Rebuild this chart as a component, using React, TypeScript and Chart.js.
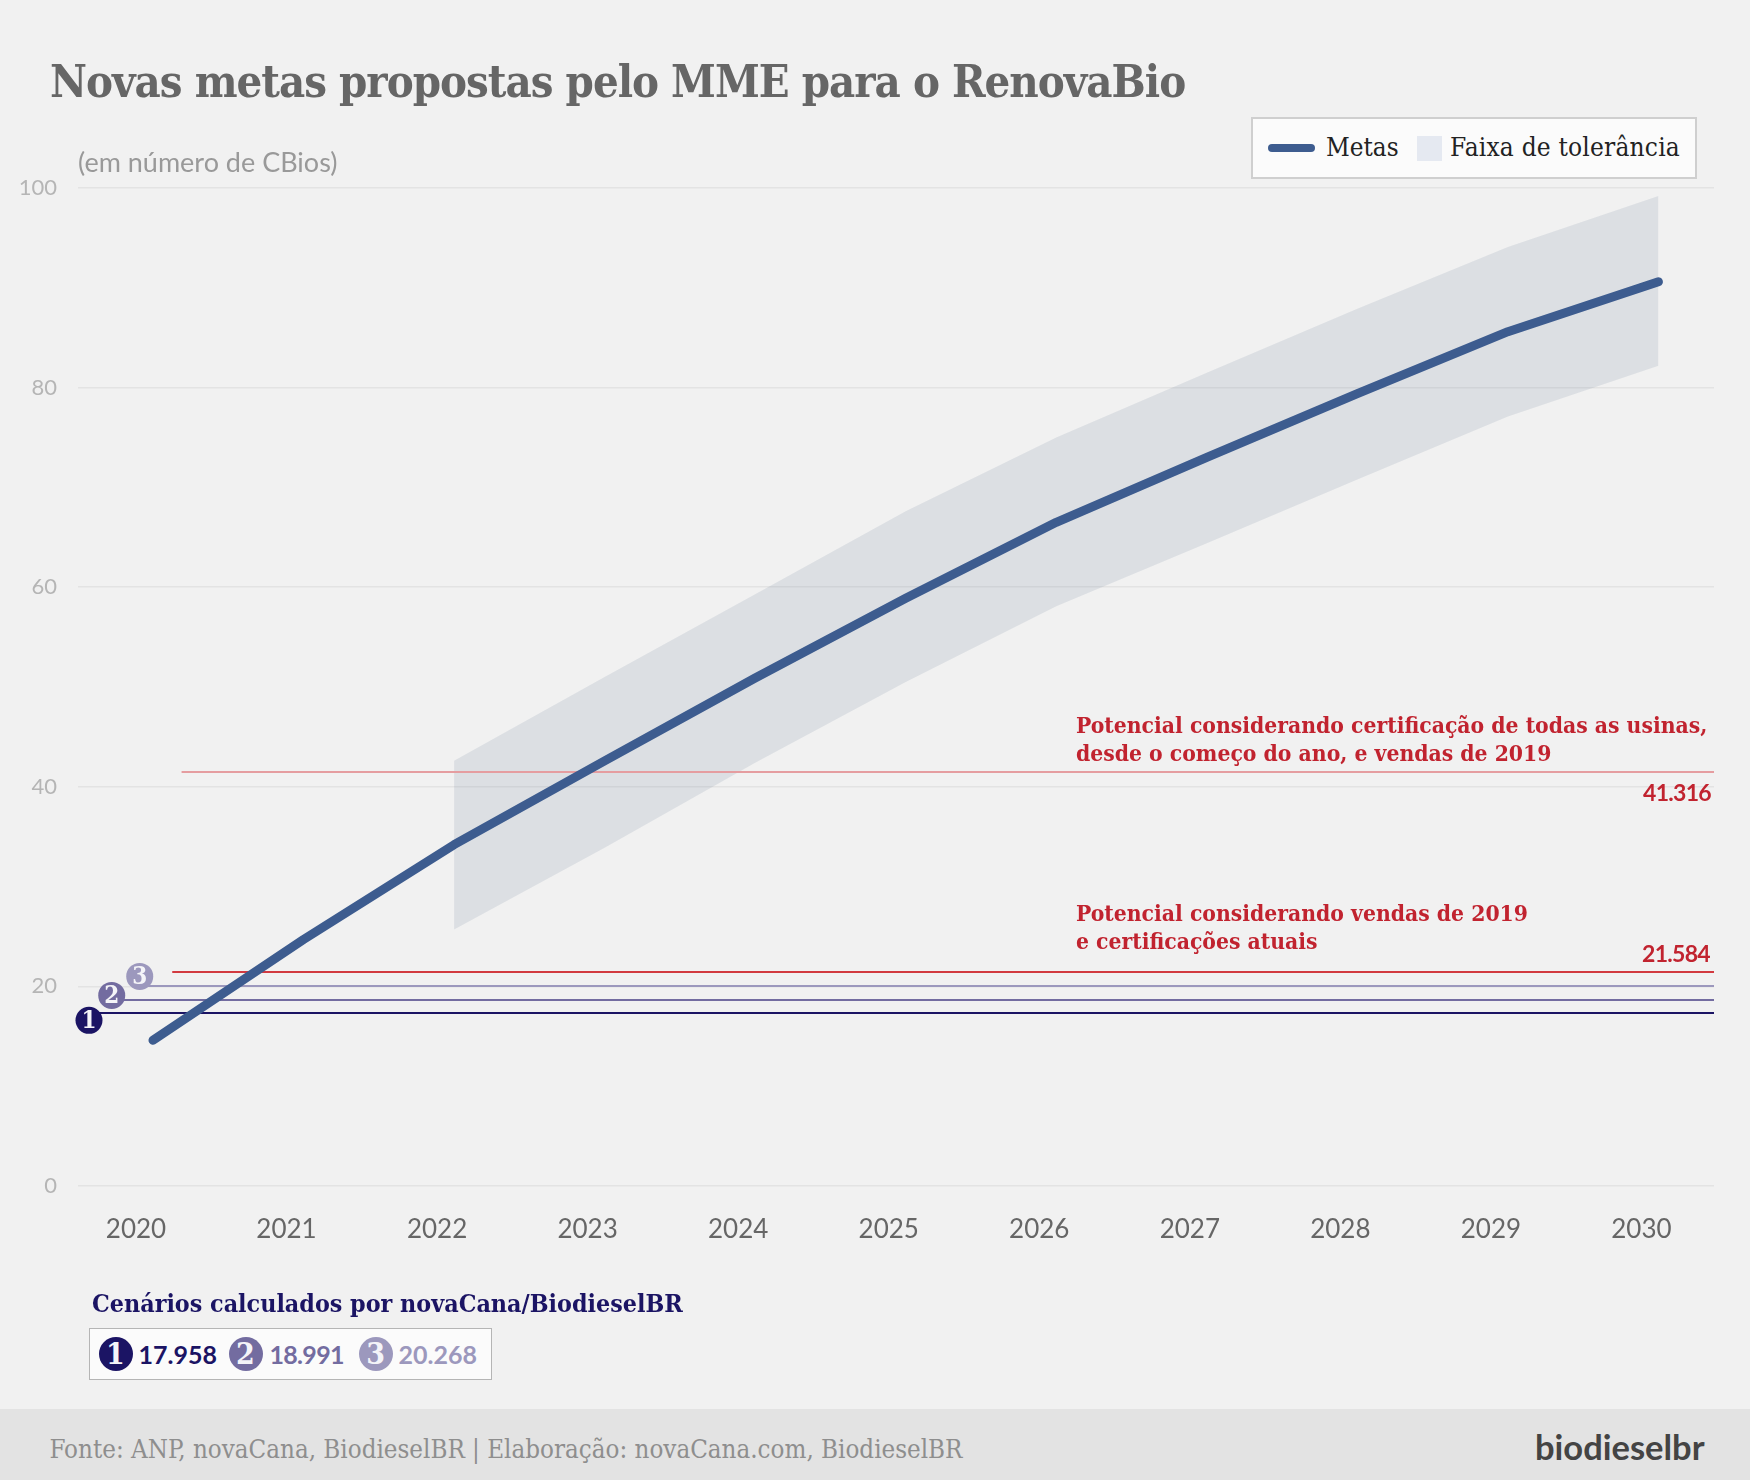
import { useEffect, useRef, type CSSProperties } from 'react'
import { Chart, registerables } from 'chart.js'

Chart.register(...registerables)

const SLAB = '"DejaVu Serif Condensed", "DejaVu Serif", serif'
const SANS = 'Lato, "Noto Sans", sans-serif'

const years = [2020, 2021, 2022, 2023, 2024, 2025, 2026, 2027, 2028, 2029, 2030]
const metas = [14.6, 24.7, 34.2, 42.6, 50.9, 58.9, 66.5, 73.0, 79.4, 85.6, 90.6]
const bandYears = [2022, 2023, 2024, 2025, 2026, 2027, 2028, 2029, 2030]
const bandUpper = [42.6, 51.0, 59.3, 67.6, 75.0, 81.5, 87.9, 94.1, 99.2]
const bandLower = [25.7, 33.9, 42.4, 50.5, 58.1, 64.4, 70.8, 77.1, 82.2]
const yTicks = [0, 20, 40, 60, 80, 100]

const xMin = 2019.502
const xMax = 2030.369

// horizontal reference lines, at the height they are drawn in the source
const potencialTodas = 41.48
const potencialAtual = 21.44
const cenarios = [17.335, 18.637, 20.04]
const cenarioStarts = [2019.575, 2019.726, 2019.912]
const cenarioColors = ['#1b1464', '#736ca0', '#9c98bd']

const badgeLabels = ['1', '2', '3']
const badgeValues = [16.6, 19.1, 21.0]
const cenarioTexts = ['17.958', '18.991', '20.268']

const hline = (label: string, value: number, from: number, color: string) => ({
  label,
  data: [{ x: from, y: value }, { x: xMax, y: value }],
  borderColor: color,
  borderWidth: 2,
  pointRadius: 0,
  order: 3,
})

const badgeText = {
  id: 'badgeText',
  afterDatasetsDraw(chart: Chart) {
    const idx = chart.data.datasets.findIndex((d) => d.label === 'badges')
    const { ctx } = chart
    ctx.save()
    ctx.fillStyle = '#f4f4f8'
    ctx.font = `bold 24px ${SLAB}`
    ctx.textAlign = 'center'
    ctx.textBaseline = 'middle'
    chart.getDatasetMeta(idx).data.forEach((pt, i) => {
      ctx.fillText(badgeLabels[i], pt.x, pt.y + 1)
    })
    ctx.restore()
  },
}

function Txt({ x, y, right, style, children }: { x?: number; y: number; right?: number; style: CSSProperties; children: React.ReactNode }) {
  return (
    <div
      style={{
        position: 'absolute',
        left: x,
        right: right !== undefined ? 1750 - right : undefined,
        top: y,
        transform: 'translateY(-50%)',
        whiteSpace: 'nowrap',
        ...style,
      }}
    >
      {children}
    </div>
  )
}

function Badge({ x, y, color, label }: { x: number; y: number; color: string; label: string }) {
  return (
    <div
      style={{
        position: 'absolute',
        left: x - 17,
        top: y - 17,
        width: 34,
        height: 34,
        borderRadius: '50%',
        background: color,
        color: '#f4f4f8',
        font: `bold 30px ${SLAB}`,
        lineHeight: '34px',
        textAlign: 'center',
      }}
    >
      {label}
    </div>
  )
}

const redText: CSSProperties = { font: `bold 22.7px ${SLAB}`, color: '#c1232f' }
const redNum: CSSProperties = { font: `bold 23px ${SANS}`, color: '#c1232f', letterSpacing: -0.7 }

export default function App() {
  const canvasRef = useRef<HTMLCanvasElement>(null)

  useEffect(() => {
    if (!canvasRef.current) return
    const chart = new Chart(canvasRef.current, {
      type: 'line',
      data: {
        datasets: [
          {
            label: 'Metas',
            data: years.map((x, i) => ({ x, y: metas[i] })),
            borderColor: '#3d5c8f',
            borderWidth: 9,
            borderCapStyle: 'round',
            borderJoinStyle: 'round',
            pointRadius: 0,
            order: 1,
          },
          {
            label: 'badges',
            data: cenarioStarts.map((x, i) => ({ x, y: badgeValues[i] })),
            showLine: false,
            clip: false,
            pointRadius: 13.5,
            pointBorderWidth: 0,
            pointBackgroundColor: cenarioColors,
            order: 2,
          },
          hline('Potencial todas', potencialTodas, 2020.19, '#e59da0'),
          hline('Potencial atual', potencialAtual, 2020.128, '#d23a40'),
          ...cenarios.map((v, i) => hline('Cenário ' + (i + 1), v, cenarioStarts[i], cenarioColors[i])),
          {
            label: 'Faixa superior',
            data: bandYears.map((x, i) => ({ x, y: bandUpper[i] })),
            borderWidth: 0,
            pointRadius: 0,
            backgroundColor: 'rgba(50,80,115,0.105)',
            fill: '+1',
            order: 5,
          },
          {
            label: 'Faixa inferior',
            data: bandYears.map((x, i) => ({ x, y: bandLower[i] })),
            borderWidth: 0,
            pointRadius: 0,
            order: 6,
          },
        ],
      },
      options: {
        animation: false,
        responsive: false,
        layout: { padding: { top: 188, right: 36, left: 0, bottom: 0 } },
        plugins: { legend: { display: false }, tooltip: { enabled: false } },
        scales: {
          x: {
            type: 'linear',
            min: xMin,
            max: xMax,
            grid: { display: false },
            border: { display: false },
            afterFit: (s: any) => { s.height = 114 },
            afterBuildTicks: (s: any) => { s.ticks = years.map((value) => ({ value })) },
            ticks: {
              autoSkip: false,
              maxRotation: 0,
              padding: 20,
              labelOffset: -17,
              color: '#666666',
              font: { family: SANS, size: 26 },
              callback: (v: any) => String(v),
            },
          },
          y: {
            min: 0,
            max: 100,
            grid: { color: '#e3e3e3', lineWidth: 1.5, drawTicks: false },
            border: { display: false },
            afterFit: (s: any) => { s.width = 78 },
            afterBuildTicks: (s: any) => { s.ticks = yTicks.map((value) => ({ value })) },
            ticks: {
              padding: 21,
              color: '#b5b5b5',
              font: { family: SANS, size: 22 },
            },
          },
        },
      },
      plugins: [badgeText],
    } as any)
    return () => { chart.destroy() }
  }, [])

  return (
    <div style={{ position: 'absolute', left: 0, top: 0, width: 1750, height: 1480, background: '#f1f1f1', overflow: 'hidden' }}>
      <canvas ref={canvasRef} width={1750} height={1300} style={{ position: 'absolute', left: 0, top: 0, display: 'block' }} />

      <Txt x={50} y={81} style={{ font: `bold 45px ${SLAB}`, color: '#666666', letterSpacing: -1 }}>Novas metas propostas pelo MME para o RenovaBio</Txt>
      <Txt x={78} y={161} style={{ font: `27px ${SANS}`, color: '#999999' }}>(em número de CBios)</Txt>

      <div style={{ position: 'absolute', left: 1251, top: 117, width: 446, height: 62, boxSizing: 'border-box', background: '#fbfbfb', border: '2px solid #cfcfcf' }} />
      <div style={{ position: 'absolute', left: 1268, top: 144, width: 47, height: 8, borderRadius: 4, background: '#3d5c8f' }} />
      <Txt x={1326} y={147} style={{ font: `25.8px ${SLAB}`, color: '#222222' }}>Metas</Txt>
      <div style={{ position: 'absolute', left: 1417, top: 136, width: 25, height: 25, background: '#e5e9f1' }} />
      <Txt x={1450} y={147} style={{ font: `26px ${SLAB}`, color: '#222222', letterSpacing: 0.2 }}>Faixa de tolerância</Txt>

      <Txt x={1076} y={725} style={redText}>Potencial considerando certificação de todas as usinas,</Txt>
      <Txt x={1076} y={753} style={redText}>desde o começo do ano, e vendas de 2019</Txt>
      <Txt right={1711} y={792} style={redNum}>41.316</Txt>
      <Txt x={1076} y={913} style={redText}>Potencial considerando vendas de 2019</Txt>
      <Txt x={1076} y={941} style={redText}>e certificações atuais</Txt>
      <Txt right={1710} y={953} style={redNum}>21.584</Txt>

      <Txt x={92} y={1303} style={{ font: `bold 24.8px ${SLAB}`, color: '#1b1464' }}>Cenários calculados por novaCana/BiodieselBR</Txt>
      <div style={{ position: 'absolute', left: 89, top: 1328, width: 403, height: 52, boxSizing: 'border-box', background: '#fbfbfb', border: '1px solid #b5b5b5' }} />
      {cenarioTexts.map((t, i) => (
        <div key={t}>
          <Badge x={[115.5, 245.5, 375.6][i]} y={1353.7} color={cenarioColors[i]} label={badgeLabels[i]} />
          <Txt x={[138.5, 269.5, 398.6][i]} y={1354} style={{ font: `bold 25px ${SANS}`, color: cenarioColors[i], letterSpacing: i === 1 ? -0.7 : 0 }}>{t}</Txt>
        </div>
      ))}

      <div style={{ position: 'absolute', left: 0, top: 1409, width: 1750, height: 71, background: '#e3e3e3' }} />
      <Txt x={49.5} y={1449} style={{ font: `25.7px ${SLAB}`, color: '#8e8e8e' }}>Fonte: ANP, novaCana, BiodieselBR | Elaboração: novaCana.com, BiodieselBR</Txt>
      <Txt x={1535} y={1446} style={{ font: `bold 34.5px ${SANS}`, color: '#444444' }}>biodieselbr</Txt>
    </div>
  )
}
